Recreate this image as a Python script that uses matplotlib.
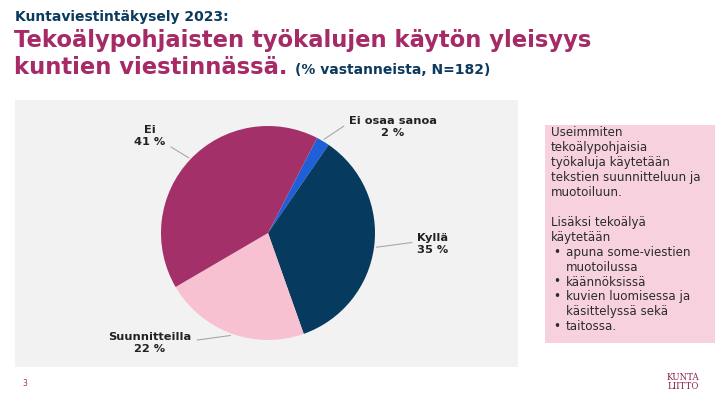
import matplotlib

matplotlib.use("Agg")
import matplotlib.pyplot as plt
from matplotlib.patches import Rectangle
import numpy as np

# data
categories = ["Ei osaa sanoa", "Kyllä", "Suunnitteilla", "Ei"]
shares = [2, 35, 22, 41]
colors = ["#1F5FD8", "#073A5F", "#F8C1D1", "#A4306A"]

box_intro = ["Useimmiten", "tekoälypohjaisia", "työkaluja käytetään",
             "tekstien suunnitteluun ja", "muotoiluun.", "",
             "Lisäksi tekoälyä", "käytetään"]
box_bullets = [["apuna some-viestien", "muotoilussa"],
               ["käännöksissä"],
               ["kuvien luomisessa ja", "käsittelyssä sekä"],
               ["taitossa."]]

NAVY = "#0B3A5E"
MAGENTA = "#A52A66"
W, H = 720, 399


def fx(px):
    return px / W


def fy(py):
    return 1 - py / H


fig = plt.figure(figsize=(7.2, 3.99), dpi=100)
fig.patch.set_facecolor("white")
plt.rcParams["font.family"] = ["DejaVu Sans"]

# grey panel and pink box
fig.patches.append(Rectangle((fx(15), fy(367)), fx(518) - fx(15), fy(100) - fy(367),
                             transform=fig.transFigure, facecolor="#F2F2F2",
                             edgecolor="none", zorder=-1))
fig.patches.append(Rectangle((fx(545), fy(343)), fx(715) - fx(545), fy(125) - fy(343),
                             transform=fig.transFigure, facecolor="#F7D2DE",
                             edgecolor="none", zorder=-1))

# titles
fig.text(fx(15), fy(17), "Kuntaviestintäkysely 2023:", color=NAVY, fontsize=10,
         fontweight="bold", va="center", ha="left")
fig.text(fx(14), fy(41), "Tekoälypohjaisten työkalujen käytön yleisyys", color=MAGENTA,
         fontsize=16.3, fontweight="bold", va="center", ha="left")
line2 = fig.text(fx(14), fy(68), "kuntien viestinnässä.", color=MAGENTA,
                 fontsize=16.3, fontweight="bold", va="center", ha="left")
renderer = fig.canvas.get_renderer()
bb = line2.get_window_extent(renderer)
fig.text(bb.x1 / fig.bbox.width + fx(8), fy(70), "(% vastanneista, N=182)", color=NAVY,
         fontsize=10, fontweight="bold", va="center", ha="left")

# pie
cx, cy, r = 268, 233, 107
ax = fig.add_axes([fx(cx - r), fy(cy + r), fx(2 * r), fy(cy - r) - fy(cy + r)])
ax.set_zorder(2)
wedges, _ = ax.pie(shares, colors=colors, startangle=62.7, counterclock=False,
                   radius=1.0, wedgeprops=dict(linewidth=0))
ax.set_xlim(-1, 1)
ax.set_ylim(-1, 1)
ax.set_aspect("equal")
ax.axis("off")

label_pos = {
    "Ei osaa sanoa": ((393, 127), (0, 0.7)),
    "Kyllä": ((433, 244), (0, 0.6)),
    "Suunnitteilla": ((150, 343), (1, 0.6)),
    "Ei": ((150, 136), (1, 0.15)),
}
for wedge, cat, val in zip(wedges, categories, shares):
    mid = np.deg2rad((wedge.theta1 + wedge.theta2) / 2)
    (tx, ty), rel = label_pos[cat]
    ax.annotate(f"{cat}\n{val} %", xy=(1.02 * np.cos(mid), 1.02 * np.sin(mid)),
                xytext=(fx(tx), fy(ty)), textcoords="figure fraction",
                ha="center", va="center", fontsize=8.2, fontweight="bold",
                color="#222222", linespacing=1.25,
                arrowprops=dict(arrowstyle="-", color="#A8A8A8", lw=0.8,
                                shrinkA=2, shrinkB=0, relpos=rel),
                annotation_clip=False)

# text box
y = 133
for line in box_intro:
    if line:
        fig.text(fx(551), fy(y), line, fontsize=8.6, color="#2B2B2B", va="center", ha="left")
    y += 14.9
for item in box_bullets:
    fig.text(fx(553), fy(y), "•", fontsize=8.6, color="#2B2B2B", va="center", ha="left")
    for line in item:
        fig.text(fx(566), fy(y), line, fontsize=8.6, color="#2B2B2B", va="center", ha="left")
        y += 14.9

# footer
fig.text(fx(25), fy(383), "3", fontsize=5.5, color=MAGENTA, va="center", ha="center")
fig.text(fx(683), fy(382), "KUNTA\nLIITTO", fontsize=6.2, color="#8E1F52", va="center",
         ha="center", family="DejaVu Serif", linespacing=1.0)

fig.savefig("out.png", dpi=100, facecolor="white")
